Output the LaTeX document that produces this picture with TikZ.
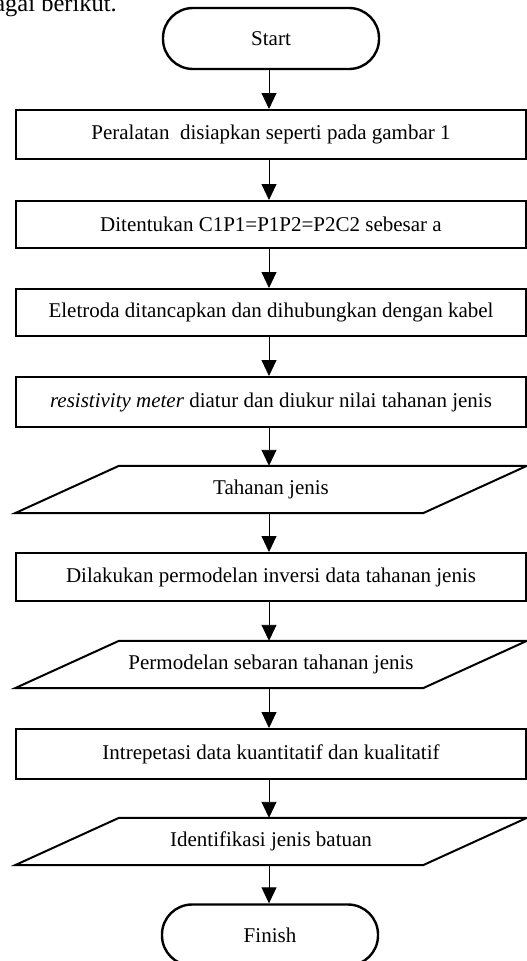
\documentclass[tikz,border=0pt]{standalone}
\usepackage{fontspec}
\setmainfont{Liberation Serif}
\usetikzlibrary{arrows.meta, positioning}

\begin{document}
\begin{tikzpicture}[x=1pt, y=1pt,
  every node/.style={font=\fontsize{21}{25}\selectfont},
  proc/.style={draw, line width=2pt, minimum width=510pt, inner sep=0pt},
  term/.style={draw, line width=2.4pt, rounded corners=30pt, minimum width=216pt, minimum height=61pt},
  io/.style={minimum width=300pt, minimum height=47pt, inner sep=0pt},
  iobox/.style={line width=2pt, line join=miter},
  flow/.style={-{Triangle[length=16pt, width=15pt]}, line width=0.9pt}]
\useasboundingbox (0,0) rectangle (527,-961);
\clip (0,0) rectangle (527,-961);
% tail of the sentence above the chart
\node (intro) at (117,-11) [anchor=base east, inner sep=0pt, font=\fontsize{24.5}{29}\selectfont] {sebagai berikut.};
% steps
\node (start) at (271,-38.5) [term] {Start};
\node (p1) at (271,-134.5) [proc, minimum height=49pt] {Peralatan\ \ disiapkan seperti pada gambar 1};
\node (p2) at (271,-224.5) [proc, minimum height=47pt] {Ditentukan C1P1=P1P2=P2C2 sebesar a};
\node (p3) at (271,-312.5) [proc, minimum height=47pt] {Eletroda ditancapkan dan dihubungkan dengan kabel};
\node (p4) at (271,-402) [proc, minimum height=50pt] {\textit{resistivity meter} diatur dan diukur nilai tahanan jenis};
\node (io1) at (271,-489.5) [io] {Tahanan jenis};
\node (p5) at (271,-577) [proc, minimum height=48pt] {Dilakukan permodelan inversi data tahanan jenis};
\node (io2) at (271,-664.5) [io] {Permodelan sebaran tahanan jenis};
\node (p6) at (271,-754) [proc, minimum height=50pt] {Intrepetasi data kuantitatif dan kualitatif};
\node (io3) at (271,-841.5) [io] {Identifikasi jenis batuan};
\node (finish) at (270,-935) [term] {Finish};
% data boxes
\foreach \n in {io1,io2,io3}
  \draw [iobox] ([xshift=-152pt]\n.north) -- ([xshift=256pt]\n.north)
    -- ([xshift=152pt]\n.south) -- ([xshift=-256pt]\n.south) -- cycle;
% arrows
\foreach \a/\b in {start/p1,p1/p2,p2/p3,p3/p4,p4/io1,io1/p5,p5/io2,io2/p6,p6/io3,io3/finish}
  \draw [flow] ([xshift=-2pt]\a.south) -- ([xshift=-2pt]\a.south |- \b.north);
\end{tikzpicture}
\end{document}
